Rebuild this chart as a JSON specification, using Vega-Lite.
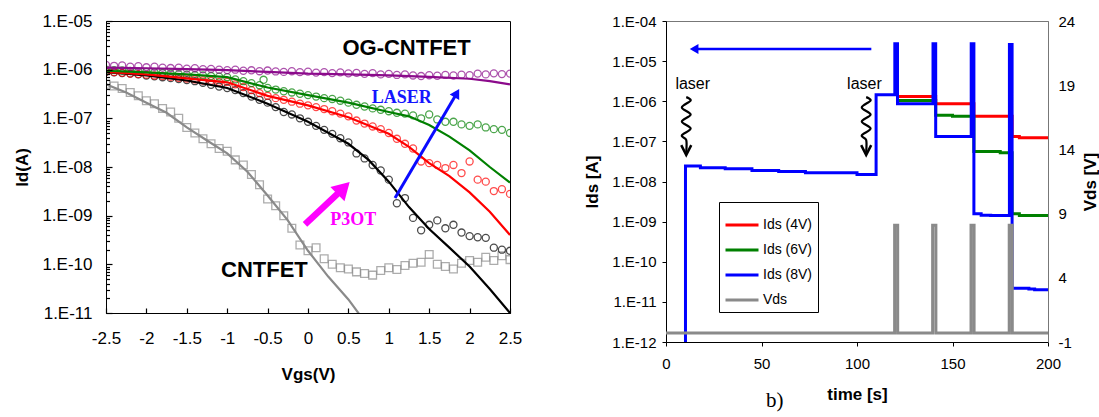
{
  "$schema": "https://vega.github.io/schema/vega-lite/v6.json",
  "background": "white",
  "padding": {"left": 13, "top": 11, "right": 0, "bottom": 0},
  "spacing": 60,
  "resolve": {"scale": {"color": "independent"}, "legend": {"color": "independent"}},
  "config": {
    "axis": {"grid": false, "labelFont": "Liberation Sans", "titleFont": "Liberation Sans", "labelColor": "black", "titleColor": "black", "tickColor": "black", "domainColor": "black", "labelOverlap": false},
    "text": {"font": "Liberation Sans"},
    "view": {"stroke": "black"}
  },
  "datasets": {
    "meas": [
      {"series":"OG dark","vgs":-2.5,"id":9.0e-7},{"series":"OG dark","vgs":-2.4,"id":8.8e-7},{"series":"OG dark","vgs":-2.3,"id":8.5e-7},{"series":"OG dark","vgs":-2.2,"id":8.3e-7},{"series":"OG dark","vgs":-2.1,"id":8.0e-7},{"series":"OG dark","vgs":-2.0,"id":7.6e-7},{"series":"OG dark","vgs":-1.9,"id":7.3e-7},{"series":"OG dark","vgs":-1.8,"id":7.0e-7},{"series":"OG dark","vgs":-1.7,"id":6.7e-7},{"series":"OG dark","vgs":-1.6,"id":6.4e-7},{"series":"OG dark","vgs":-1.5,"id":6.1e-7},{"series":"OG dark","vgs":-1.4,"id":5.8e-7},{"series":"OG dark","vgs":-1.3,"id":5.4e-7},{"series":"OG dark","vgs":-1.2,"id":4.9e-7},{"series":"OG dark","vgs":-1.1,"id":4.5e-7},{"series":"OG dark","vgs":-1.0,"id":4.2e-7},{"series":"OG dark","vgs":-0.9,"id":3.8e-7},{"series":"OG dark","vgs":-0.8,"id":3.3e-7},{"series":"OG dark","vgs":-0.7,"id":2.8e-7},{"series":"OG dark","vgs":-0.6,"id":2.4e-7},{"series":"OG dark","vgs":-0.5,"id":2.1e-7},{"series":"OG dark","vgs":-0.4,"id":1.7e-7},{"series":"OG dark","vgs":-0.3,"id":1.35e-7},{"series":"OG dark","vgs":-0.2,"id":1.2e-7},{"series":"OG dark","vgs":-0.1,"id":1.0e-7},{"series":"OG dark","vgs":0.0,"id":8.5e-8},{"series":"OG dark","vgs":0.1,"id":7.0e-8},{"series":"OG dark","vgs":0.2,"id":5.8e-8},{"series":"OG dark","vgs":0.3,"id":4.8e-8},{"series":"OG dark","vgs":0.4,"id":3.9e-8},{"series":"OG dark","vgs":0.5,"id":3.2e-8},{"series":"OG dark","vgs":0.6,"id":1.9e-8},{"series":"OG dark","vgs":0.7,"id":1.5e-8},{"series":"OG dark","vgs":0.8,"id":1.1e-8},{"series":"OG dark","vgs":0.9,"id":8.5e-9},{"series":"OG dark","vgs":1.0,"id":5.5e-9},{"series":"OG dark","vgs":1.1,"id":1.8e-9},{"series":"OG dark","vgs":1.2,"id":2.3e-9},{"series":"OG dark","vgs":1.3,"id":9e-10},{"series":"OG dark","vgs":1.4,"id":5e-10},{"series":"OG dark","vgs":1.5,"id":6.5e-10},{"series":"OG dark","vgs":1.6,"id":8e-10},{"series":"OG dark","vgs":1.7,"id":5.5e-10},{"series":"OG dark","vgs":1.8,"id":6.5e-10},{"series":"OG dark","vgs":1.9,"id":4.5e-10},{"series":"OG dark","vgs":2.0,"id":3.8e-10},{"series":"OG dark","vgs":2.1,"id":3.6e-10},{"series":"OG dark","vgs":2.2,"id":3.5e-10},{"series":"OG dark","vgs":2.3,"id":2.2e-10},{"series":"OG dark","vgs":2.4,"id":2.0e-10},{"series":"OG dark","vgs":2.5,"id":1.9e-10},
      {"series":"OG laser 1","vgs":-2.5,"id":9.2e-7},{"series":"OG laser 1","vgs":-2.4,"id":8.9e-7},{"series":"OG laser 1","vgs":-2.3,"id":8.6e-7},{"series":"OG laser 1","vgs":-2.2,"id":8.3e-7},{"series":"OG laser 1","vgs":-2.1,"id":8.1e-7},{"series":"OG laser 1","vgs":-2.0,"id":7.9e-7},{"series":"OG laser 1","vgs":-1.9,"id":7.6e-7},{"series":"OG laser 1","vgs":-1.8,"id":7.4e-7},{"series":"OG laser 1","vgs":-1.7,"id":7.1e-7},{"series":"OG laser 1","vgs":-1.6,"id":6.8e-7},{"series":"OG laser 1","vgs":-1.5,"id":6.6e-7},{"series":"OG laser 1","vgs":-1.4,"id":6.3e-7},{"series":"OG laser 1","vgs":-1.3,"id":6.0e-7},{"series":"OG laser 1","vgs":-1.2,"id":5.9e-7},{"series":"OG laser 1","vgs":-1.1,"id":5.6e-7},{"series":"OG laser 1","vgs":-1.0,"id":5.6e-7},{"series":"OG laser 1","vgs":-0.9,"id":5.0e-7},{"series":"OG laser 1","vgs":-0.8,"id":4.4e-7},{"series":"OG laser 1","vgs":-0.7,"id":3.8e-7},{"series":"OG laser 1","vgs":-0.6,"id":3.3e-7},{"series":"OG laser 1","vgs":-0.5,"id":2.9e-7},{"series":"OG laser 1","vgs":-0.4,"id":2.6e-7},{"series":"OG laser 1","vgs":-0.3,"id":2.4e-7},{"series":"OG laser 1","vgs":-0.2,"id":2.2e-7},{"series":"OG laser 1","vgs":-0.1,"id":2.0e-7},{"series":"OG laser 1","vgs":0.0,"id":1.85e-7},{"series":"OG laser 1","vgs":0.1,"id":1.7e-7},{"series":"OG laser 1","vgs":0.2,"id":1.55e-7},{"series":"OG laser 1","vgs":0.3,"id":1.4e-7},{"series":"OG laser 1","vgs":0.4,"id":1.25e-7},{"series":"OG laser 1","vgs":0.5,"id":1.1e-7},{"series":"OG laser 1","vgs":0.6,"id":9.0e-8},{"series":"OG laser 1","vgs":0.7,"id":7.8e-8},{"series":"OG laser 1","vgs":0.8,"id":6.8e-8},{"series":"OG laser 1","vgs":0.9,"id":6.0e-8},{"series":"OG laser 1","vgs":1.0,"id":5.0e-8},{"series":"OG laser 1","vgs":1.1,"id":3.8e-8},{"series":"OG laser 1","vgs":1.2,"id":3.0e-8},{"series":"OG laser 1","vgs":1.3,"id":2.4e-8},{"series":"OG laser 1","vgs":1.4,"id":1.3e-8},{"series":"OG laser 1","vgs":1.5,"id":1.2e-8},{"series":"OG laser 1","vgs":1.6,"id":1.1e-8},{"series":"OG laser 1","vgs":1.7,"id":9.5e-9},{"series":"OG laser 1","vgs":1.8,"id":1.1e-8},{"series":"OG laser 1","vgs":1.9,"id":7.5e-9},{"series":"OG laser 1","vgs":2.0,"id":1.3e-8},{"series":"OG laser 1","vgs":2.1,"id":5.5e-9},{"series":"OG laser 1","vgs":2.2,"id":5.0e-9},{"series":"OG laser 1","vgs":2.3,"id":3.2e-9},{"series":"OG laser 1","vgs":2.4,"id":3.5e-9},{"series":"OG laser 1","vgs":2.5,"id":2.8e-9},
      {"series":"OG laser 2","vgs":-2.5,"id":1.0e-6},{"series":"OG laser 2","vgs":-2.4,"id":9.8e-7},{"series":"OG laser 2","vgs":-2.3,"id":9.6e-7},{"series":"OG laser 2","vgs":-2.2,"id":9.4e-7},{"series":"OG laser 2","vgs":-2.1,"id":9.2e-7},{"series":"OG laser 2","vgs":-2.0,"id":9.0e-7},{"series":"OG laser 2","vgs":-1.9,"id":8.8e-7},{"series":"OG laser 2","vgs":-1.8,"id":8.6e-7},{"series":"OG laser 2","vgs":-1.7,"id":8.3e-7},{"series":"OG laser 2","vgs":-1.6,"id":8.1e-7},{"series":"OG laser 2","vgs":-1.5,"id":7.9e-7},{"series":"OG laser 2","vgs":-1.4,"id":7.7e-7},{"series":"OG laser 2","vgs":-1.3,"id":7.6e-7},{"series":"OG laser 2","vgs":-1.2,"id":7.4e-7},{"series":"OG laser 2","vgs":-1.1,"id":7.2e-7},{"series":"OG laser 2","vgs":-1.0,"id":7.0e-7},{"series":"OG laser 2","vgs":-0.9,"id":6.3e-7},{"series":"OG laser 2","vgs":-0.8,"id":5.8e-7},{"series":"OG laser 2","vgs":-0.7,"id":5.3e-7},{"series":"OG laser 2","vgs":-0.6,"id":4.8e-7},{"series":"OG laser 2","vgs":-0.55,"id":6.2e-7},{"series":"OG laser 2","vgs":-0.5,"id":4.2e-7},{"series":"OG laser 2","vgs":-0.4,"id":3.9e-7},{"series":"OG laser 2","vgs":-0.3,"id":3.6e-7},{"series":"OG laser 2","vgs":-0.2,"id":3.4e-7},{"series":"OG laser 2","vgs":-0.1,"id":3.2e-7},{"series":"OG laser 2","vgs":0.0,"id":3.0e-7},{"series":"OG laser 2","vgs":0.1,"id":2.8e-7},{"series":"OG laser 2","vgs":0.2,"id":2.6e-7},{"series":"OG laser 2","vgs":0.3,"id":2.5e-7},{"series":"OG laser 2","vgs":0.4,"id":2.3e-7},{"series":"OG laser 2","vgs":0.5,"id":2.1e-7},{"series":"OG laser 2","vgs":0.6,"id":1.9e-7},{"series":"OG laser 2","vgs":0.7,"id":1.75e-7},{"series":"OG laser 2","vgs":0.8,"id":1.6e-7},{"series":"OG laser 2","vgs":0.9,"id":1.5e-7},{"series":"OG laser 2","vgs":1.0,"id":1.4e-7},{"series":"OG laser 2","vgs":1.1,"id":1.3e-7},{"series":"OG laser 2","vgs":1.2,"id":1.25e-7},{"series":"OG laser 2","vgs":1.3,"id":1.15e-7},{"series":"OG laser 2","vgs":1.4,"id":1.0e-7},{"series":"OG laser 2","vgs":1.5,"id":1.2e-7},{"series":"OG laser 2","vgs":1.6,"id":9.5e-8},{"series":"OG laser 2","vgs":1.7,"id":8.5e-8},{"series":"OG laser 2","vgs":1.8,"id":8.5e-8},{"series":"OG laser 2","vgs":1.9,"id":7.5e-8},{"series":"OG laser 2","vgs":2.0,"id":7.0e-8},{"series":"OG laser 2","vgs":2.1,"id":7.5e-8},{"series":"OG laser 2","vgs":2.2,"id":6.5e-8},{"series":"OG laser 2","vgs":2.3,"id":6.0e-8},{"series":"OG laser 2","vgs":2.4,"id":5.8e-8},{"series":"OG laser 2","vgs":2.5,"id":5.0e-8},
      {"series":"OG laser 3","vgs":-2.5,"id":1.25e-6},{"series":"OG laser 3","vgs":-2.4,"id":1.2e-6},{"series":"OG laser 3","vgs":-2.3,"id":1.22e-6},{"series":"OG laser 3","vgs":-2.2,"id":1.15e-6},{"series":"OG laser 3","vgs":-2.1,"id":1.18e-6},{"series":"OG laser 3","vgs":-2.0,"id":1.12e-6},{"series":"OG laser 3","vgs":-1.9,"id":1.15e-6},{"series":"OG laser 3","vgs":-1.8,"id":1.1e-6},{"series":"OG laser 3","vgs":-1.7,"id":1.08e-6},{"series":"OG laser 3","vgs":-1.6,"id":1.1e-6},{"series":"OG laser 3","vgs":-1.5,"id":1.05e-6},{"series":"OG laser 3","vgs":-1.4,"id":1.07e-6},{"series":"OG laser 3","vgs":-1.3,"id":1.02e-6},{"series":"OG laser 3","vgs":-1.2,"id":1.04e-6},{"series":"OG laser 3","vgs":-1.1,"id":1.0e-6},{"series":"OG laser 3","vgs":-1.0,"id":9.8e-7},{"series":"OG laser 3","vgs":-0.9,"id":1.0e-6},{"series":"OG laser 3","vgs":-0.8,"id":9.5e-7},{"series":"OG laser 3","vgs":-0.7,"id":9.7e-7},{"series":"OG laser 3","vgs":-0.6,"id":9.3e-7},{"series":"OG laser 3","vgs":-0.5,"id":9.6e-7},{"series":"OG laser 3","vgs":-0.4,"id":9.2e-7},{"series":"OG laser 3","vgs":-0.3,"id":9.0e-7},{"series":"OG laser 3","vgs":-0.2,"id":9.3e-7},{"series":"OG laser 3","vgs":-0.1,"id":8.9e-7},{"series":"OG laser 3","vgs":0.0,"id":9.1e-7},{"series":"OG laser 3","vgs":0.1,"id":8.7e-7},{"series":"OG laser 3","vgs":0.2,"id":8.9e-7},{"series":"OG laser 3","vgs":0.3,"id":8.5e-7},{"series":"OG laser 3","vgs":0.4,"id":8.8e-7},{"series":"OG laser 3","vgs":0.5,"id":8.4e-7},{"series":"OG laser 3","vgs":0.6,"id":8.6e-7},{"series":"OG laser 3","vgs":0.7,"id":8.2e-7},{"series":"OG laser 3","vgs":0.8,"id":8.5e-7},{"series":"OG laser 3","vgs":0.9,"id":8.0e-7},{"series":"OG laser 3","vgs":1.0,"id":8.2e-7},{"series":"OG laser 3","vgs":1.1,"id":7.8e-7},{"series":"OG laser 3","vgs":1.2,"id":8.0e-7},{"series":"OG laser 3","vgs":1.3,"id":7.6e-7},{"series":"OG laser 3","vgs":1.4,"id":7.4e-7},{"series":"OG laser 3","vgs":1.5,"id":7.7e-7},{"series":"OG laser 3","vgs":1.6,"id":7.5e-7},{"series":"OG laser 3","vgs":1.7,"id":7.8e-7},{"series":"OG laser 3","vgs":1.8,"id":7.6e-7},{"series":"OG laser 3","vgs":1.9,"id":7.9e-7},{"series":"OG laser 3","vgs":2.0,"id":7.7e-7},{"series":"OG laser 3","vgs":2.1,"id":8.3e-7},{"series":"OG laser 3","vgs":2.2,"id":8.0e-7},{"series":"OG laser 3","vgs":2.3,"id":8.4e-7},{"series":"OG laser 3","vgs":2.4,"id":8.1e-7},{"series":"OG laser 3","vgs":2.5,"id":8.3e-7}
    ],
    "cnt": [
      {"series":"CNTFET","vgs":-2.5,"id":5.0e-7},{"series":"CNTFET","vgs":-2.4,"id":4.6e-7},{"series":"CNTFET","vgs":-2.3,"id":4.1e-7},{"series":"CNTFET","vgs":-2.2,"id":3.4e-7},{"series":"CNTFET","vgs":-2.1,"id":2.9e-7},{"series":"CNTFET","vgs":-2.0,"id":2.3e-7},{"series":"CNTFET","vgs":-1.9,"id":2.0e-7},{"series":"CNTFET","vgs":-1.8,"id":1.6e-7},{"series":"CNTFET","vgs":-1.7,"id":1.35e-7},{"series":"CNTFET","vgs":-1.6,"id":1.0e-7},{"series":"CNTFET","vgs":-1.5,"id":6.5e-8},{"series":"CNTFET","vgs":-1.4,"id":5.0e-8},{"series":"CNTFET","vgs":-1.3,"id":3.8e-8},{"series":"CNTFET","vgs":-1.2,"id":3.0e-8},{"series":"CNTFET","vgs":-1.1,"id":2.4e-8},{"series":"CNTFET","vgs":-1.0,"id":2.1e-8},{"series":"CNTFET","vgs":-0.9,"id":1.4e-8},{"series":"CNTFET","vgs":-0.8,"id":1.1e-8},{"series":"CNTFET","vgs":-0.7,"id":7e-9},{"series":"CNTFET","vgs":-0.6,"id":4.3e-9},{"series":"CNTFET","vgs":-0.5,"id":2.2e-9},{"series":"CNTFET","vgs":-0.4,"id":1.6e-9},{"series":"CNTFET","vgs":-0.3,"id":1.0e-9},{"series":"CNTFET","vgs":-0.2,"id":5.5e-10},{"series":"CNTFET","vgs":-0.1,"id":2.5e-10},{"series":"CNTFET","vgs":0.0,"id":1.9e-10},{"series":"CNTFET","vgs":0.1,"id":2.2e-10},{"series":"CNTFET","vgs":0.2,"id":1.3e-10},{"series":"CNTFET","vgs":0.3,"id":1.0e-10},{"series":"CNTFET","vgs":0.4,"id":8.5e-11},{"series":"CNTFET","vgs":0.5,"id":8.0e-11},{"series":"CNTFET","vgs":0.6,"id":7.0e-11},{"series":"CNTFET","vgs":0.7,"id":6.5e-11},{"series":"CNTFET","vgs":0.8,"id":6.0e-11},{"series":"CNTFET","vgs":0.9,"id":7.5e-11},{"series":"CNTFET","vgs":1.0,"id":8.5e-11},{"series":"CNTFET","vgs":1.1,"id":7.8e-11},{"series":"CNTFET","vgs":1.2,"id":9.5e-11},{"series":"CNTFET","vgs":1.3,"id":1.05e-10},{"series":"CNTFET","vgs":1.4,"id":1.1e-10},{"series":"CNTFET","vgs":1.5,"id":1.6e-10},{"series":"CNTFET","vgs":1.6,"id":1.0e-10},{"series":"CNTFET","vgs":1.7,"id":9.0e-11},{"series":"CNTFET","vgs":1.8,"id":8.0e-11},{"series":"CNTFET","vgs":1.9,"id":1.05e-10},{"series":"CNTFET","vgs":2.0,"id":1.2e-10},{"series":"CNTFET","vgs":2.1,"id":1.1e-10},{"series":"CNTFET","vgs":2.2,"id":1.4e-10},{"series":"CNTFET","vgs":2.3,"id":1.2e-10},{"series":"CNTFET","vgs":2.4,"id":1.5e-10},{"series":"CNTFET","vgs":2.5,"id":1.25e-10}
    ],
    "fit": [
      {"series":"CNTFET","vgs":-2.5,"id":5e-7},{"series":"CNTFET","vgs":-2.25,"id":3.4e-7},{"series":"CNTFET","vgs":-2.0,"id":2.1e-7},{"series":"CNTFET","vgs":-1.75,"id":1.3e-7},{"series":"CNTFET","vgs":-1.5,"id":6.5e-8},{"series":"CNTFET","vgs":-1.25,"id":3.5e-8},{"series":"CNTFET","vgs":-1.0,"id":1.9e-8},{"series":"CNTFET","vgs":-0.75,"id":8e-9},{"series":"CNTFET","vgs":-0.5,"id":2.6e-9},{"series":"CNTFET","vgs":-0.25,"id":8e-10},{"series":"CNTFET","vgs":0.0,"id":1.9e-10},{"series":"CNTFET","vgs":0.25,"id":5.6e-11},{"series":"CNTFET","vgs":0.5,"id":1.9e-11},{"series":"CNTFET","vgs":0.8,"id":4e-12},
      {"series":"OG dark","vgs":-2.5,"id":9e-7},{"series":"OG dark","vgs":-2.0,"id":7.6e-7},{"series":"OG dark","vgs":-1.5,"id":6e-7},{"series":"OG dark","vgs":-1.0,"id":4.2e-7},{"series":"OG dark","vgs":-0.5,"id":2.0e-7},{"series":"OG dark","vgs":0.0,"id":8.5e-8},{"series":"OG dark","vgs":0.5,"id":3.0e-8},{"series":"OG dark","vgs":0.75,"id":1.4e-8},{"series":"OG dark","vgs":1.0,"id":5e-9},{"series":"OG dark","vgs":1.25,"id":1.5e-9},{"series":"OG dark","vgs":1.5,"id":5.3e-10},{"series":"OG dark","vgs":1.75,"id":2.2e-10},{"series":"OG dark","vgs":2.0,"id":9e-11},{"series":"OG dark","vgs":2.25,"id":3.1e-11},{"series":"OG dark","vgs":2.5,"id":1e-11},
      {"series":"OG laser 1","vgs":-2.5,"id":9e-7},{"series":"OG laser 1","vgs":-2.0,"id":8e-7},{"series":"OG laser 1","vgs":-1.5,"id":6.6e-7},{"series":"OG laser 1","vgs":-1.0,"id":5.5e-7},{"series":"OG laser 1","vgs":-0.5,"id":2.9e-7},{"series":"OG laser 1","vgs":0.0,"id":1.85e-7},{"series":"OG laser 1","vgs":0.5,"id":1.05e-7},{"series":"OG laser 1","vgs":1.0,"id":4.8e-8},{"series":"OG laser 1","vgs":1.25,"id":2.6e-8},{"series":"OG laser 1","vgs":1.5,"id":1.2e-8},{"series":"OG laser 1","vgs":1.75,"id":6.5e-9},{"series":"OG laser 1","vgs":2.0,"id":3.0e-9},{"series":"OG laser 1","vgs":2.25,"id":1.2e-9},{"series":"OG laser 1","vgs":2.5,"id":4e-10},
      {"series":"OG laser 2","vgs":-2.5,"id":9.5e-7},{"series":"OG laser 2","vgs":-2.0,"id":8.8e-7},{"series":"OG laser 2","vgs":-1.5,"id":8e-7},{"series":"OG laser 2","vgs":-1.0,"id":7e-7},{"series":"OG laser 2","vgs":-0.5,"id":4.3e-7},{"series":"OG laser 2","vgs":0.0,"id":3.0e-7},{"series":"OG laser 2","vgs":0.5,"id":2.1e-7},{"series":"OG laser 2","vgs":1.0,"id":1.35e-7},{"series":"OG laser 2","vgs":1.25,"id":1.1e-7},{"series":"OG laser 2","vgs":1.5,"id":7.3e-8},{"series":"OG laser 2","vgs":1.75,"id":4.2e-8},{"series":"OG laser 2","vgs":2.0,"id":2.2e-8},{"series":"OG laser 2","vgs":2.25,"id":1.0e-8},{"series":"OG laser 2","vgs":2.5,"id":4.8e-9},
      {"series":"OG laser 3","vgs":-2.5,"id":1.1e-6},{"series":"OG laser 3","vgs":-2.0,"id":1.07e-6},{"series":"OG laser 3","vgs":-1.5,"id":1.03e-6},{"series":"OG laser 3","vgs":-1.0,"id":9.8e-7},{"series":"OG laser 3","vgs":-0.5,"id":9e-7},{"series":"OG laser 3","vgs":0.0,"id":8.3e-7},{"series":"OG laser 3","vgs":0.5,"id":8e-7},{"series":"OG laser 3","vgs":1.0,"id":7.6e-7},{"series":"OG laser 3","vgs":1.5,"id":7.1e-7},{"series":"OG laser 3","vgs":2.0,"id":6.5e-7},{"series":"OG laser 3","vgs":2.25,"id":5.8e-7},{"series":"OG laser 3","vgs":2.5,"id":5.0e-7}
    ],
    "ann": [
      {"label":"OG-CNTFET","vgs":1.22,"id":2.75e-6},
      {"label":"CNTFET","vgs":-0.54,"id":7.7e-11},
      {"label":"LASER","vgs":1.16,"id":2.57e-7},
      {"label":"P3OT","vgs":0.56,"id":8.2e-10}
    ],
    "arrows": [
      {"arrow":"LASER","vgs":1.077,"id":2.3e-9},{"arrow":"LASER","vgs":1.842,"id":3.29e-7},
      {"arrow":"P3OT","vgs":-0.037,"id":6.65e-10},{"arrow":"P3OT","vgs":0.44,"id":3.7e-9}
    ],
    "heads": [
      {"arrow":"LASER","vgs":1.842,"id":3.29e-7},
      {"arrow":"P3OT","vgs":0.44,"id":3.7e-9}
    ],
    "ids": [
      {"s":"Ids (4V)","t":121.2,"ids":1.32e-6},{"s":"Ids (4V)","t":141.2,"ids":8.7e-7},{"s":"Ids (4V)","t":161.2,"ids":4.2e-7},{"s":"Ids (4V)","t":181.2,"ids":1.32e-7},{"s":"Ids (4V)","t":185,"ids":1.23e-7},{"s":"Ids (4V)","t":200,"ids":1.23e-7},
      {"s":"Ids (6V)","t":121.2,"ids":1.05e-6},{"s":"Ids (6V)","t":141.2,"ids":4.5e-7},{"s":"Ids (6V)","t":150,"ids":4.2e-7},{"s":"Ids (6V)","t":161.2,"ids":5.6e-8},{"s":"Ids (6V)","t":175,"ids":5.2e-8},{"s":"Ids (6V)","t":181.2,"ids":1.58e-9},{"s":"Ids (6V)","t":185,"ids":1.42e-9},{"s":"Ids (6V)","t":200,"ids":1.42e-9},
      {"s":"Ids (8V)","t":10.0,"ids":1e-12},{"s":"Ids (8V)","t":10.2,"ids":2.42e-8},{"s":"Ids (8V)","t":18,"ids":2.2e-8},{"s":"Ids (8V)","t":31,"ids":2.07e-8},{"s":"Ids (8V)","t":45,"ids":1.88e-8},{"s":"Ids (8V)","t":59,"ids":1.78e-8},{"s":"Ids (8V)","t":73,"ids":1.65e-8},{"s":"Ids (8V)","t":100,"ids":1.5e-8},{"s":"Ids (8V)","t":110,"ids":1.45e-6},{"s":"Ids (8V)","t":119.8,"ids":2.7e-5},{"s":"Ids (8V)","t":121.2,"ids":8.7e-7},{"s":"Ids (8V)","t":139.8,"ids":2.7e-5},{"s":"Ids (8V)","t":141.2,"ids":1.33e-7},{"s":"Ids (8V)","t":159.8,"ids":2.7e-5},{"s":"Ids (8V)","t":161.2,"ids":1.58e-9},{"s":"Ids (8V)","t":165,"ids":1.45e-9},{"s":"Ids (8V)","t":170,"ids":1.42e-9},{"s":"Ids (8V)","t":179.8,"ids":2.6e-5},{"s":"Ids (8V)","t":181.2,"ids":2.2e-11},{"s":"Ids (8V)","t":190,"ids":2.1e-11},{"s":"Ids (8V)","t":193,"ids":2.0e-11},{"s":"Ids (8V)","t":200,"ids":2.0e-11}
    ],
    "vds": [
      {"s":"Vds","t":0,"vds":-0.3},{"s":"Vds","t":119.7,"vds":8.1},{"s":"Vds","t":121.3,"vds":-0.3},{"s":"Vds","t":139.6,"vds":8.1},{"s":"Vds","t":141.3,"vds":-0.3},{"s":"Vds","t":159.7,"vds":8.1},{"s":"Vds","t":161.3,"vds":-0.3},{"s":"Vds","t":179.7,"vds":8.1},{"s":"Vds","t":181.3,"vds":-0.3},{"s":"Vds","t":200,"vds":-0.3}
    ],
    "rarrow": [{"t":107.5,"ids":2.0e-5},{"t":14.7,"ids":2.0e-5}],
    "rhead": [{"t":14.7,"ids":2.0e-5}],
    "laserlbl": [{"label":"laser","t":14,"ids":2.64e-6},{"label":"laser","t":103.9,"ids":2.64e-6}],
    "wave": [
      {"w":1,"i":0,"t":10.6,"ids":1.27e-6},{"w":1,"i":1,"t":12.9,"ids":1.04e-6},{"w":1,"i":2,"t":8.3,"ids":6.97e-7},{"w":1,"i":3,"t":12.9,"ids":4.66e-7},{"w":1,"i":4,"t":8.3,"ids":3.12e-7},{"w":1,"i":5,"t":12.9,"ids":2.09e-7},{"w":1,"i":6,"t":8.3,"ids":1.40e-7},{"w":1,"i":7,"t":10.6,"ids":1.08e-7},{"w":1,"i":8,"t":10.6,"ids":5.41e-8},
      {"w":2,"i":0,"t":104.8,"ids":1.27e-6},{"w":2,"i":1,"t":107.1,"ids":1.04e-6},{"w":2,"i":2,"t":102.5,"ids":6.97e-7},{"w":2,"i":3,"t":107.1,"ids":4.66e-7},{"w":2,"i":4,"t":102.5,"ids":3.12e-7},{"w":2,"i":5,"t":107.1,"ids":2.09e-7},{"w":2,"i":6,"t":102.5,"ids":1.40e-7},{"w":2,"i":7,"t":104.8,"ids":1.08e-7},{"w":2,"i":8,"t":104.8,"ids":5.41e-8}
    ],
    "chev": [{"t":10.6,"ids":6.07e-8},{"t":104.8,"ids":6.07e-8}]
  },
  "hconcat": [
    {
      "width": 404,
      "height": 292,
      "view": {"stroke": "black", "strokeWidth": 1},
      "layer": [
        {
          "data": {"name": "cnt"},
          "mark": {"type": "point", "shape": "square", "filled": false, "size": 60, "strokeWidth": 1.3, "clip": true},
          "encoding": {
            "x": {"field": "vgs", "type": "quantitative", "scale": {"domain": [-2.5, 2.5], "nice": false, "zero": false},
              "axis": {"title": "Vgs(V)", "values": [-2.5, -2, -1.5, -1, -0.5, 0, 0.5, 1, 1.5, 2, 2.5], "labelExpr": "'' + datum.value", "tickSize": -5, "tickWidth": 1.2, "zindex": 2, "labelPadding": 22, "labelFontSize": 17, "labelFlush": false, "titleFontSize": 17, "titleFontWeight": "bold", "titlePadding": 20}},
            "y": {"field": "id", "type": "quantitative", "scale": {"type": "log", "domain": [1e-11, 1e-5], "nice": false},
              "axis": {"title": "Id(A)", "values": [1e-11,2e-11,3e-11,4e-11,5e-11,6e-11,7e-11,8e-11,9e-11,1e-10,2e-10,3e-10,4e-10,5e-10,6e-10,7e-10,8e-10,9e-10,1e-9,2e-9,3e-9,4e-9,5e-9,6e-9,7e-9,8e-9,9e-9,1e-8,2e-8,3e-8,4e-8,5e-8,6e-8,7e-8,8e-8,9e-8,1e-7,2e-7,3e-7,4e-7,5e-7,6e-7,7e-7,8e-7,9e-7,1e-6,2e-6,3e-6,4e-6,5e-6,6e-6,7e-6,8e-6,9e-6,1e-5],
                "labelExpr": "abs(log(datum.value)/LN10 - round(log(datum.value)/LN10)) < 0.01 ? '1.E-' + (round(-log(datum.value)/LN10) < 10 ? '0' : '') + round(-log(datum.value)/LN10) : ''",
                "tickSize": {"condition": {"test": "abs(log(datum.value)/LN10 - round(log(datum.value)/LN10)) < 0.01", "value": -6}, "value": -3.5},
                "tickWidth": 1.2, "zindex": 2,
                "labelPadding": 20, "labelFontSize": 17, "labelFlush": false, "titleFontSize": 17, "titleFontWeight": "bold", "titlePadding": 10}},
            "color": {"field": "series", "type": "nominal", "scale": {"domain": ["CNTFET", "OG dark", "OG laser 1", "OG laser 2", "OG laser 3"], "range": ["#8a8a8a", "#000000", "#ff0000", "#008000", "#8b0a8b"]}, "legend": null}
          }
        },
        {
          "data": {"name": "meas"},
          "mark": {"type": "point", "shape": "circle", "filled": false, "size": 50, "strokeWidth": 1.3, "clip": true},
          "encoding": {
            "x": {"field": "vgs", "type": "quantitative"},
            "y": {"field": "id", "type": "quantitative"},
            "color": {"field": "series", "type": "nominal", "legend": null}
          }
        },
        {
          "data": {"name": "fit"},
          "mark": {"type": "line", "strokeWidth": 2.2, "clip": true},
          "encoding": {
            "x": {"field": "vgs", "type": "quantitative"},
            "y": {"field": "id", "type": "quantitative"},
            "color": {"field": "series", "type": "nominal", "legend": null}
          }
        },
        {
          "data": {"name": "arrows"},
          "transform": [{"filter": "datum.arrow === 'LASER'"}],
          "mark": {"type": "line", "strokeWidth": 3, "color": "#0a0aff"},
          "encoding": {"x": {"field": "vgs", "type": "quantitative"}, "y": {"field": "id", "type": "quantitative"}}
        },
        {
          "data": {"name": "arrows"},
          "transform": [{"filter": "datum.arrow === 'P3OT'"}],
          "mark": {"type": "line", "strokeWidth": 6.5, "color": "#ff00ff"},
          "encoding": {"x": {"field": "vgs", "type": "quantitative"}, "y": {"field": "id", "type": "quantitative"}}
        },
        {
          "data": {"name": "heads"},
          "transform": [{"filter": "datum.arrow === 'LASER'"}],
          "mark": {"type": "point", "shape": "triangle-up", "filled": true, "size": 120, "angle": 30, "color": "#0a0aff", "opacity": 1},
          "encoding": {"x": {"field": "vgs", "type": "quantitative"}, "y": {"field": "id", "type": "quantitative"}}
        },
        {
          "data": {"name": "heads"},
          "transform": [{"filter": "datum.arrow === 'P3OT'"}],
          "mark": {"type": "point", "shape": "triangle-up", "filled": true, "size": 400, "angle": 45, "color": "#ff00ff", "opacity": 1},
          "encoding": {"x": {"field": "vgs", "type": "quantitative"}, "y": {"field": "id", "type": "quantitative"}}
        },
        {
          "data": {"name": "ann"},
          "transform": [{"filter": "datum.label === 'OG-CNTFET' || datum.label === 'CNTFET'"}],
          "mark": {"type": "text", "font": "Liberation Sans", "fontWeight": "bold", "fontSize": 22, "color": "black"},
          "encoding": {"x": {"field": "vgs", "type": "quantitative"}, "y": {"field": "id", "type": "quantitative"}, "text": {"field": "label"}}
        },
        {
          "data": {"name": "ann"},
          "transform": [{"filter": "datum.label === 'LASER'"}],
          "mark": {"type": "text", "font": "Liberation Serif", "fontWeight": "bold", "fontSize": 18, "color": "#1414ff"},
          "encoding": {"x": {"field": "vgs", "type": "quantitative"}, "y": {"field": "id", "type": "quantitative"}, "text": {"field": "label"}}
        },
        {
          "data": {"name": "ann"},
          "transform": [{"filter": "datum.label === 'P3OT'"}],
          "mark": {"type": "text", "font": "Liberation Serif", "fontWeight": "bold", "fontSize": 18, "color": "#ff00ff"},
          "encoding": {"x": {"field": "vgs", "type": "quantitative"}, "y": {"field": "id", "type": "quantitative"}, "text": {"field": "label"}}
        }
      ]
    },
    {
      "width": 382,
      "height": 321,
      "view": {"stroke": "#777777", "strokeWidth": 1},
      "title": {"text": "b)", "orient": "bottom", "anchor": "start", "frame": "group", "dx": 100, "offset": -12, "font": "Liberation Serif", "fontSize": 21, "fontWeight": "normal", "color": "black"},
      "resolve": {"scale": {"y": "independent"}},
      "layer": [
        {
          "layer": [
            {
              "data": {"name": "ids"},
              "mark": {"type": "line", "interpolate": "step-after", "strokeWidth": 3, "clip": true},
              "encoding": {
                "x": {"field": "t", "type": "quantitative", "scale": {"domain": [0, 200], "nice": false},
                  "axis": {"title": "time [s]", "values": [0, 50, 100, 150, 200], "tickSize": 4, "labelPadding": 10, "labelFontSize": 15, "labelFlush": false, "titleFontSize": 17, "titleFontWeight": "bold", "titlePadding": 15}},
                "y": {"field": "ids", "type": "quantitative", "scale": {"type": "log", "domain": [1e-12, 1e-4], "nice": false},
                  "axis": {"title": "Ids [A]", "values": [1e-12, 1e-11, 1e-10, 1e-9, 1e-8, 1e-7, 1e-6, 1e-5, 1e-4],
                    "labelExpr": "'1.E-' + (round(-log(datum.value)/LN10) < 10 ? '0' : '') + round(-log(datum.value)/LN10)",
                    "tickSize": 4, "labelPadding": 6, "labelFontSize": 15, "labelFlush": false, "titleFontSize": 17, "titleFontWeight": "bold", "titlePadding": 10}},
                "color": {"field": "s", "type": "nominal",
                  "scale": {"domain": ["Ids (4V)", "Ids (6V)", "Ids (8V)", "Vds"], "range": ["#ff0000", "#008000", "#0000ff", "#8a8a8a"]},
                  "legend": {"title": null, "orient": "none", "legendX": 53, "legendY": 181, "strokeColor": "black", "fillColor": "white", "padding": 5, "symbolType": "stroke", "symbolSize": 1089, "symbolStrokeWidth": 3, "labelFont": "Liberation Sans", "labelFontSize": 14, "labelColor": "black", "labelOffset": 3, "rowPadding": 0}}
              }
            },
            {
              "data": {"name": "rarrow"},
              "mark": {"type": "line", "strokeWidth": 2.5, "color": "#0000ff"},
              "encoding": {"x": {"field": "t", "type": "quantitative"}, "y": {"field": "ids", "type": "quantitative"}}
            },
            {
              "data": {"name": "rhead"},
              "mark": {"type": "point", "shape": "triangle-left", "filled": true, "size": 100, "color": "#0000ff", "opacity": 1},
              "encoding": {"x": {"field": "t", "type": "quantitative"}, "y": {"field": "ids", "type": "quantitative"}}
            },
            {
              "data": {"name": "laserlbl"},
              "mark": {"type": "text", "font": "Liberation Sans", "fontSize": 16, "color": "black"},
              "encoding": {"x": {"field": "t", "type": "quantitative"}, "y": {"field": "ids", "type": "quantitative"}, "text": {"field": "label"}}
            },
            {
              "data": {"name": "wave"},
              "mark": {"type": "line", "interpolate": "cardinal", "strokeWidth": 2.2, "color": "black"},
              "encoding": {"x": {"field": "t", "type": "quantitative"}, "y": {"field": "ids", "type": "quantitative"}, "detail": {"field": "w"}, "order": {"field": "i", "type": "quantitative"}}
            },
            {
              "data": {"name": "chev"},
              "mark": {"type": "point", "shape": "M-1,-1L0,1L1,-1", "filled": false, "size": 100, "strokeWidth": 2.5, "color": "black", "opacity": 1},
              "encoding": {"x": {"field": "t", "type": "quantitative"}, "y": {"field": "ids", "type": "quantitative"}}
            }
          ]
        },
        {
          "data": {"name": "vds"},
          "mark": {"type": "line", "interpolate": "step-after", "strokeWidth": 3},
          "encoding": {
            "x": {"field": "t", "type": "quantitative"},
            "y": {"field": "vds", "type": "quantitative", "scale": {"domain": [-1, 24], "nice": false, "zero": false},
              "axis": {"orient": "right", "title": "Vds [V]", "values": [-1, 4, 9, 14, 19, 24], "labelExpr": "'' + datum.value", "ticks": false, "labelPadding": 10, "labelFontSize": 15, "labelFlush": false, "titleFontSize": 17, "titleFontWeight": "bold", "titleAngle": 270, "titleBaseline": "top", "titlePadding": 8, "domainColor": "#777777"}},
            "color": {"field": "s", "type": "nominal"}
          }
        }
      ]
    }
  ]
}
